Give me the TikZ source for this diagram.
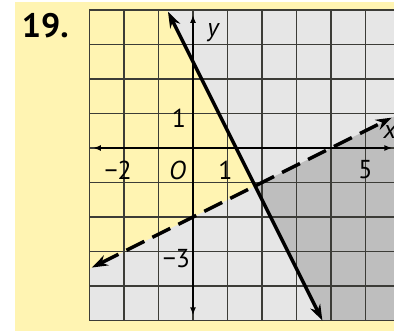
\documentclass[tikz,border=0pt]{standalone}
\usepackage{fontspec}
\setmainfont{PT Sans}
\usetikzlibrary{arrows.meta}
\definecolor{bgyellow}{RGB}{255,244,178}
\definecolor{lgray}{RGB}{230,230,230}
\definecolor{dgray}{RGB}{190,190,190}
\definecolor{gridcol}{RGB}{60,60,55}
\tikzset{
  gridline/.style={draw=gridcol, line width=1.8bp},
  axisline/.style={draw=black, line width=1.6bp, {Latex[length=8bp,width=6bp]}-{Latex[length=8bp,width=6bp]}},
  boundline/.style={draw=black, line width=3.4bp, {Stealth[length=16bp,width=11bp]}-{Stealth[length=16bp,width=11bp]}},
  lbl/.style={font=\fontsize{26}{26}\selectfont, inner sep=0pt},
}
\begin{document}
\begin{tikzpicture}[x=34.5bp, y=34.5bp]
  % bounding box (394 x 331 px, origin at pixel (193,148))
  \useasboundingbox (-5.5942,-5.3043) rectangle (5.8261,4.2899);
  \fill[white] (-5.5942,-5.3043) rectangle (5.8261,4.2899);
  \fill[bgyellow] (-5.1594,-5.3043) rectangle (5.8261,4.2319);
  % regions inside the grid
  \fill[lgray] (-3,-5) rectangle (5.8261,4);
  \fill[bgyellow] (-3,4) -- (-0.75,4) -- (1.8,-1.1) -- (-3,-3.5) -- cycle;
  \fill[dgray] (1.8,-1.1) -- (3.75,-5) -- (5.8261,-5) -- (5.8261,0.913) -- cycle;
  % grid
  \foreach \gx in {-3,...,5} {\draw[gridline] (\gx,-5) -- (\gx,4);}
  \foreach \gy in {-5,...,4} {\draw[gridline] (-3,\gy) -- (5.8261,\gy);}
  % axes
  \coordinate (xl) at (-2.9,0);
  \coordinate (xr) at (5.78,0);
  \coordinate (yb) at (0,-4.85);
  \coordinate (yt) at (0,3.86);
  \draw[axisline] (xl) -- (xr);
  \draw[axisline] (yb) -- (yt);
  % boundary lines
  \coordinate (sa) at (-0.725,3.95);
  \coordinate (sb) at (3.75,-5.0);
  \draw[boundline] (sa) -- (sb);
  \coordinate (da) at (-2.93,-3.465);
  \coordinate (db) at (5.76,0.88);
  \draw[boundline, dash pattern=on 20bp off 9bp] (da) -- (db);
  % labels
  \node[lbl] (lx1) at (0.94,-0.66) {1};
  \node[lbl] (lx5) at (5.0,-0.64) {5};
  \node[lbl] (lxm2) at (-1.98,-0.64) {\llap{−}2};
  \node[lbl] (lO) at (-0.45,-0.64) {\textit{O}};
  \node[lbl] (ly1) at (-0.41,0.87) {1};
  \node[lbl] (lym3) at (-0.29,-3.2) {\llap{−}3};
  \node[lbl] (ly) at (0.6,3.35) {\textit{y}};
  \node[lbl] (lx) at (5.72,0.46) {\textit{x}};
  \node[font=\fontsize{34}{34}\selectfont\bfseries, inner sep=0pt] (num) at (-4.28,3.54) {19.};
\end{tikzpicture}
\end{document}
